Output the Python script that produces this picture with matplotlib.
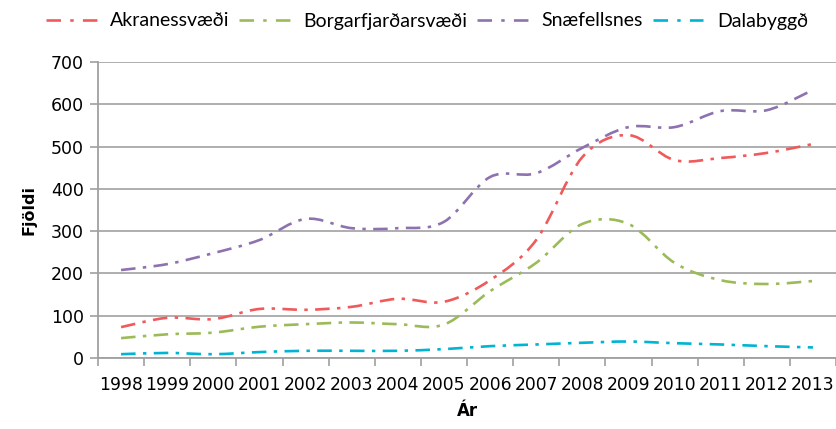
import matplotlib
matplotlib.use("Agg")
import matplotlib.pyplot as plt
from matplotlib.path import Path
from matplotlib.patches import PathPatch
from matplotlib.lines import Line2D
import numpy as np

years = ["1998", "1999", "2000", "2001", "2002", "2003", "2004", "2005",
         "2006", "2007", "2008", "2009", "2010", "2011", "2012", "2013"]
akranes = [73, 95, 92, 116, 114, 121, 140, 133, 184, 279, 475, 527, 468, 473, 485, 506]
borgarfj = [47, 56, 60, 74, 80, 84, 80, 79, 158, 225, 317, 317, 225, 184, 175, 182]
snaefell = [208, 222, 248, 279, 329, 307, 307, 322, 428, 437, 497, 546, 546, 584, 586, 634]
dala = [9, 12, 9, 14, 17, 17, 17, 21, 28, 32, 36, 39, 35, 32, 28, 25]

series_names = ["Akranessvæði", "Borgarfjarðarsvæði", "Snæfellsnes", "Dalabyggð"]
series_vals = [akranes, borgarfj, snaefell, dala]
colors = ["#F05A5A", "#9BBB59", "#8E72B0", "#00B4D4"]

plt.rcParams['font.family'] = ['DejaVu Sans']

fig = plt.figure(figsize=(8.36, 4.29), dpi=100)
ax = fig.add_axes([98/836, (429-358)/429, 738/836, 296/429])

lw = 1.9
ls = (0, (5.5, 2.8, 1.3, 2.8))


def smooth_path(xs, ys):
    pts = np.column_stack([xs, ys]).astype(float)
    n = len(pts)
    verts = [pts[0]]
    codes = [Path.MOVETO]
    for i in range(n - 1):
        p0 = pts[i - 1] if i > 0 else pts[i]
        p1 = pts[i]
        p2 = pts[i + 1]
        p3 = pts[i + 2] if i + 2 < n else pts[i + 1]
        c1 = p1 + (p2 - p0) / 6.0
        c2 = p2 - (p3 - p1) / 6.0
        verts += [c1, c2, p2]
        codes += [Path.CURVE4] * 3
    return Path(verts, codes)


x = np.arange(len(years))
handles = []
for name, vals, c in zip(series_names, series_vals, colors):
    p = smooth_path(x, vals)
    patch = PathPatch(p, facecolor='none', edgecolor=c, lw=lw, linestyle=ls,
                      capstyle='butt', zorder=3)
    ax.add_patch(patch)
    handles.append(Line2D([], [], color=c, lw=lw,
                          linestyle=(0, (5.5, 3.5, 1.3, 3.5, 5.5, 3.5)),
                          dash_capstyle='butt'))

ax.set_xlim(-0.5, len(years) - 0.5)
ax.set_ylim(0, 700)
ax.set_yticks(range(0, 701, 100))
ax.set_xticks(x)
ax.set_xticklabels(years)
ax.set_xticks(np.arange(-0.5, len(years), 1.0), minor=True)
ax.tick_params(axis='x', which='major', length=0, pad=13, labelsize=12.3, colors='black')
ax.tick_params(axis='x', which='minor', length=6, width=1.2, color='#A0A0A0', direction='out')
ax.tick_params(axis='y', length=6, width=1.2, color='#A0A0A0', labelsize=12.5, pad=4)

ax.grid(axis='y', color='#A8A8A8', lw=1.3, zorder=0)
ax.set_axisbelow(True)
for s in ['top', 'right']:
    ax.spines[s].set_visible(False)
ax.spines['left'].set_color('#A0A0A0')
ax.spines['left'].set_linewidth(1.3)
ax.spines['bottom'].set_color('#A0A0A0')
ax.spines['bottom'].set_linewidth(1.3)

ax.set_ylabel("Fjöldi", fontsize=11.5, fontweight='bold')
ax.yaxis.set_label_coords((37 - 98) / 738, 0.5)
ax.set_xlabel("Ár", fontsize=12, fontweight='bold', labelpad=6)

leg = fig.legend(handles, series_names, loc='center', bbox_to_anchor=(427/836, 1 - 21/429),
                 ncol=4, frameon=False, prop={'family': 'Lato', 'size': 14},
                 handlelength=2.6, handletextpad=0.7, columnspacing=0.5,
                 borderaxespad=0, borderpad=0)

fig.savefig("out.png", dpi=100)
